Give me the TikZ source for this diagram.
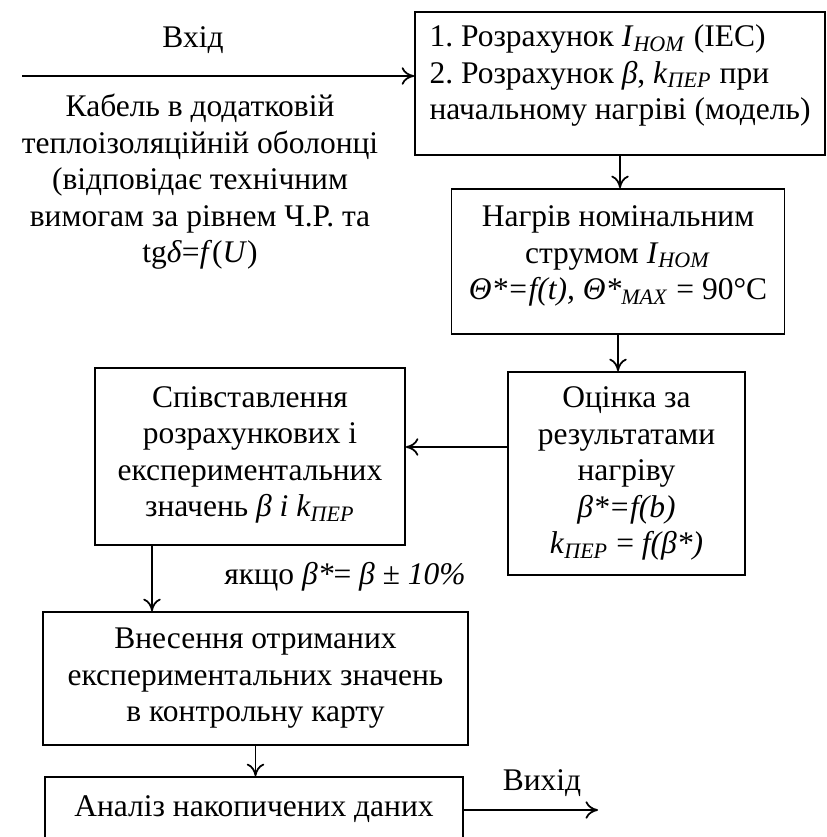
\documentclass[tikz,border=0pt]{standalone}
\usepackage{fontspec}
\setmainfont{Liberation Serif}
\usetikzlibrary{arrows.meta}
\frenchspacing

\newcommand{\ital}[1]{\textit{#1}}
\newcommand{\low}[1]{\textsubscript{\textit{#1}}}
\newcommand{\pad}[1]{\rule[-#1]{0pt}{#1}}

\begin{document}
\begin{tikzpicture}[x=0.4pt,y=-0.4pt,font=\fontsize{12.6}{14.6}\selectfont,
		>={To[length=5pt,width=7pt]}]
	\useasboundingbox (0,0) rectangle (826,837);
	\clip (0,0) rectangle (826,837);

	\begin{scope}[every node/.style={rectangle,draw,line width=0.7pt,align=center,inner sep=3pt}]
		\node [minimum width=164pt,minimum height=57.2pt,align=left] (calc) at (620,83.5)
			{1. Розрахунок \ital{I}\low{НОМ} (IEC)\\2. Розрахунок \ital{β}, \ital{k}\low{ПЕР} при\\начальному нагріві (модель)\pad{9pt}};
		\node [minimum width=133.2pt,minimum height=58pt] (heat) at (618,261.5)
			{Нагрів номінальним\\струмом \ital{I}\low{НОМ}\\\ital{Θ*=f(t), Θ*}\low{MAX} = 90°C\pad{7pt}};
		\node [minimum width=94.8pt,minimum height=81.2pt] (eval) at (626.5,473.5)
			{Оцінка за\\результатами\\нагріву\\\ital{β*=f(b)}\\\ital{k}\low{ПЕР} = \ital{f(β*)}};
		\node [minimum width=124pt,minimum height=70.8pt] (cmp) at (250,456.5)
			{Співставлення\\розрахункових і\\експериментальних\\значень \ital{β і k}\low{ПЕР}\pad{4pt}};
		\node [minimum width=170pt,minimum height=53.2pt] (rec) at (255.5,678.5)
			{Внесення отриманих\\експериментальних значень\\в контрольну карту};
		\node [minimum width=167.2pt,minimum height=26pt] (anl) at (254,809.5)
			{Аналіз накопичених даних};
	\end{scope}

	\begin{scope}[every node/.style={align=center,inner sep=0pt}]
		\node (inlbl) at (193,40) {Вхід};
		\node (cable) at (200,182)
			{Кабель в додатковій\\теплоізоляційній оболонці\\(відповідає технічним\\вимогам за рівнем Ч.Р. та\\tg\ital{δ}=\ital{f}(\ital{U})};
		\node (cond) at (345,577) {якщо \ital{β*}= \ital{β ± 10\%}};
		\node (outlbl) at (542,783) {Вихід};
	\end{scope}

	\coordinate (in) at (22,76);
	\coordinate (out) at (598,810);
	\coordinate (e1) at ([yshift=10.6pt]eval.west);
	\coordinate (c1) at ([xshift=-39.2pt]cmp.south);

	\begin{scope}[every path/.style={draw,line width=0.7pt}]
		\path [->] (in) -- (in -| calc.west);
		\path [->] (calc.south) -- (calc.south |- heat.north);
		\path [->] (heat.south) -- (heat.south |- eval.north);
		\path [->] (e1) -- (e1 -| cmp.east);
		\path [->] (c1) -- (c1 |- rec.north);
		\path [->] (rec.south) -- (rec.south |- anl.north);
		\path [->] (anl.east |- out) -- (out);
	\end{scope}
\end{tikzpicture}
\end{document}
